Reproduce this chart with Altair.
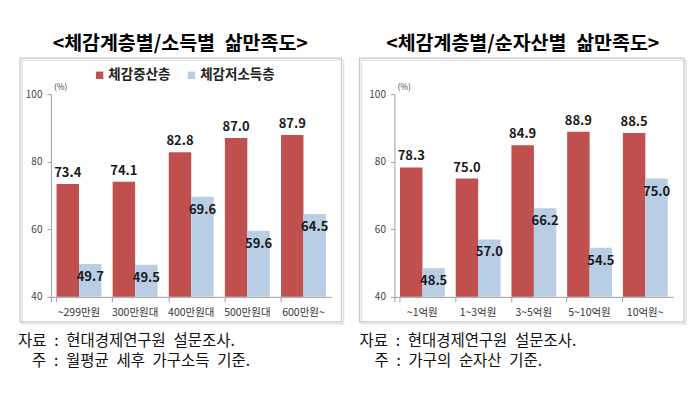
import altair as alt
import pandas as pd

FONT = "Noto Sans CJK KR"

series = ["체감중산층", "체감저소득층"]
colors = ["#C0504D", "#B9CDE5"]

income_cats = ["~299만원", "300만원대", "400만원대", "500만원대", "600만원~"]
income_mid = [73.4, 74.1, 82.8, 87.0, 87.9]
income_low = [49.7, 49.5, 69.6, 59.6, 64.5]

asset_cats = ["~1억원", "1~3억원", "3~5억원", "5~10억원", "10억원~"]
asset_mid = [78.3, 75.0, 84.9, 88.9, 88.5]
asset_low = [48.5, 57.0, 66.2, 54.5, 75.0]

titles = ["<체감계층별/소득별\u2002삶만족도>", "<체감계층별/순자산별\u2002삶만족도>"]
source_note = "자료\u2002:\u2002현대경제연구원\u2002설문조사."
notes = ["주\u2002:\u2002월평균\u2002세후\u2002가구소득\u2002기준.",
         "주\u2002:\u2002가구의\u2002순자산\u2002기준."]


def make_df(cats, mid, low):
    rows = []
    for c, m, l in zip(cats, mid, low):
        rows.append({"cat": c, "series": series[0], "value": m})
        rows.append({"cat": c, "series": series[1], "value": l})
    return pd.DataFrame(rows)


def panel(title, note, cats, mid, low, width, fx1, fx2, nx1, nx2):
    df = make_df(cats, mid, low)
    base = alt.Chart(df)
    x = alt.X("cat:N", sort=cats, title=None,
              scale=alt.Scale(paddingInner=0.2, paddingOuter=0.1),
              axis=alt.Axis(labelAngle=0, ticks=True, bandPosition=0, tickExtra=True,
                            tickSize=5, tickColor="#A0A0A0",
                            labelFontSize=10.5, labelColor="#333", labelPadding=6,
                            domainColor="#A0A0A0", labelFont=FONT))
    y = alt.Y("value:Q", title=None,
              scale=alt.Scale(domain=[40, 100], nice=False, zero=False),
              axis=alt.Axis(values=[40, 60, 80, 100], grid=False, tickSize=4,
                            tickColor="#A0A0A0", domainColor="#A0A0A0",
                            labelFontSize=10, labelColor="#444",
                            labelPadding=5, labelFont=FONT))
    xo = alt.XOffset("series:N", sort=series, scale=alt.Scale(domain=series))
    color = alt.Color("series:N", sort=series,
                      scale=alt.Scale(domain=series, range=colors),
                      legend=alt.Legend(orient="none", legendX=42, legendY=-26,
                                        direction="horizontal", title=None,
                                        symbolType="square", symbolSize=55,
                                        symbolStrokeWidth=0,
                                        labelFontSize=13.5, labelFontWeight="bold",
                                        labelFont=FONT, labelColor="#222",
                                        columnPadding=14, labelOffset=2))
    bars = base.mark_bar().encode(x=x, y=y, y2=alt.datum(40), xOffset=xo, color=color)
    lab_mid = base.transform_filter(alt.datum.series == series[0]).mark_text(
        dy=-11, fontSize=13, fontWeight="bold", font=FONT, color="#1a1a1a"
    ).encode(x=x, y=y, xOffset=xo, text=alt.Text("value:Q", format=".1f"))
    lab_low = base.transform_filter(alt.datum.series == series[1]).mark_text(
        dy=13, fontSize=13, fontWeight="bold", font=FONT, color="#1a1a1a"
    ).encode(x=x, y=y, xOffset=xo, text=alt.Text("value:Q", format=".1f"))

    one = alt.Chart(pd.DataFrame({"k": [0]}))
    frame = one.mark_rect(fill="transparent", stroke="#C8C8C8", strokeWidth=1.2).encode(
        x=alt.value(fx1), x2=alt.value(fx2), y=alt.value(-36), y2=alt.value(228))
    shadow = one.mark_rect(fill="transparent", stroke="#E4E4E4", strokeWidth=1.5).encode(
        x=alt.value(fx1 + 2), x2=alt.value(fx2 + 2), y=alt.value(-34), y2=alt.value(230))
    pct = one.mark_text(fontSize=8.5, font=FONT, color="#444", align="left").encode(
        x=alt.value(3), y=alt.value(-7), text=alt.value("(%)"))
    foot1 = one.mark_text(fontSize=15.5, font=FONT, color="#111", align="left",
                          baseline="middle").encode(
        x=alt.value(nx1), y=alt.value(247), text=alt.value(source_note))
    foot2 = one.mark_text(fontSize=15.5, font=FONT, color="#111", align="left",
                          baseline="middle").encode(
        x=alt.value(nx2), y=alt.value(267), text=alt.value(note))
    return alt.layer(shadow, frame, bars, lab_mid, lab_low, pct, foot1, foot2).properties(
        width=width, height=203,
        title=alt.TitleParams(title, fontSize=19.5, fontWeight="bold", font=FONT,
                              color="#000", anchor="middle", offset=3, dx=-11))


left = panel(titles[0], notes[0], income_cats, income_mid, income_low, 281,
             -31, 291, -33, -19)
right = panel(titles[1], notes[1], asset_cats, asset_mid, asset_low, 279,
              -35, 290, -35, -20)

chart = alt.hconcat(left, right, spacing=14).properties(
    padding={"left": 10, "top": 25, "right": 5, "bottom": 5}
).configure_view(strokeWidth=0)

chart.save("out.html", embed_options={"renderer": "svg", "actions": False})
